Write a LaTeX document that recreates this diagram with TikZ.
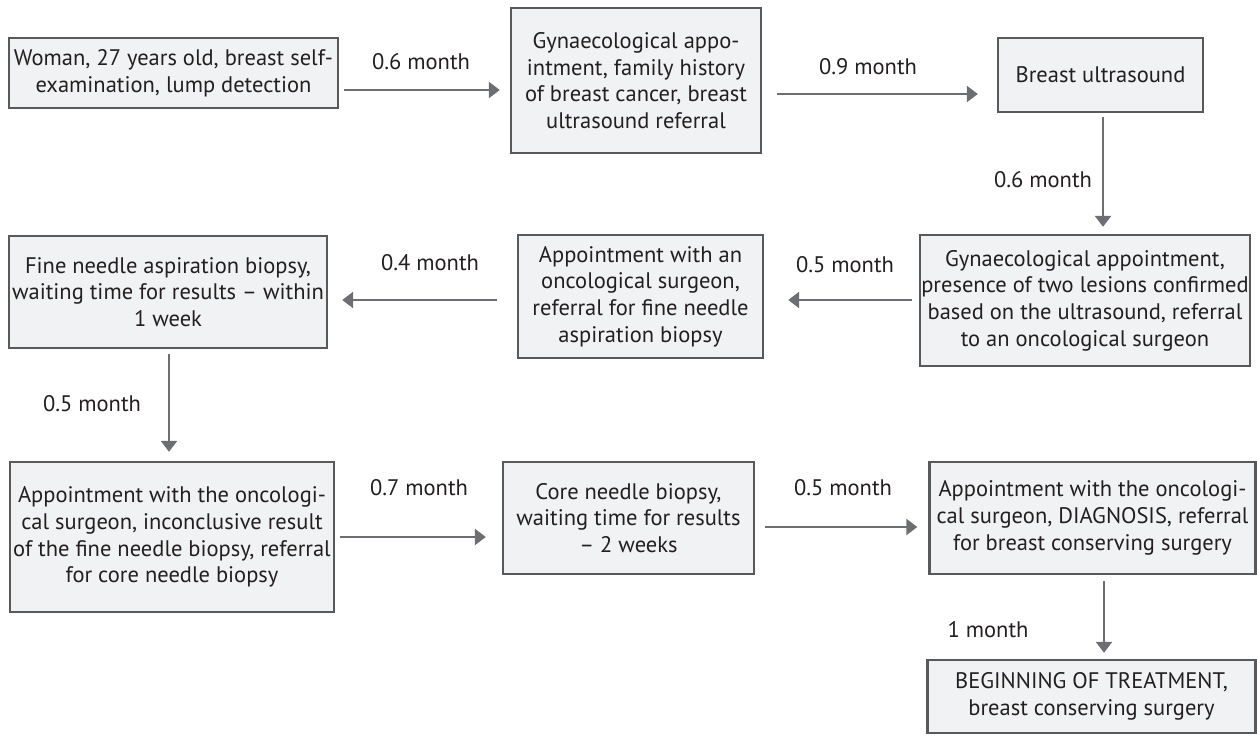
\documentclass[tikz,border=0pt]{standalone}
\usepackage{fontspec}
\setmainfont{PT Sans}
\usetikzlibrary{arrows.meta}
\definecolor{boxline}{HTML}{58595B}
\definecolor{boxfill}{HTML}{F1F2F3}
\definecolor{arrcol}{HTML}{6D6E71}
\definecolor{txt}{HTML}{231F20}
\tikzset{
  stepbox/.style={draw=boxline, line width=2.4pt, fill=boxfill, align=center, inner sep=0pt,
    text=txt, font=\fontsize{22.5}{26.7}\selectfont},
  arr/.style={draw=arrcol, line width=2.5pt, -{Triangle[length=11pt,width=16pt]}},
  lbl/.style={text=txt, font=\fontsize{22.5}{26.7}\selectfont, inner sep=0pt}
}
\begin{document}
\begin{tikzpicture}[x=1pt,y=-1pt]
\useasboundingbox (0,0) rectangle (1257,736);
\node[stepbox, minimum width=329pt, minimum height=70pt] (A) at (173.5,73) {Woman, 27 years old, breast self-\\examination, lump detection};
\node[stepbox, minimum width=250pt, minimum height=145pt] (B) at (636,80.5) {Gynaecological appo-\\intment, family history\\of breast cancer, breast\\ultrasound referral};
\node[stepbox, minimum width=205pt, minimum height=74pt] (C) at (1100.5,75) {Breast ultrasound};
\node[stepbox, minimum width=330pt, minimum height=131pt] (D) at (1085,300.5) {Gynaecological appointment,\\presence of two lesions confirmed\\based on the ultrasound, referral\\to an oncological surgeon};
\node[stepbox, minimum width=245pt, minimum height=123pt] (E) at (640.5,296.5) {Appointment with an\\oncological surgeon,\\referral for fine needle\\aspiration biopsy};
\node[stepbox, minimum width=318pt, minimum height=112pt] (F) at (168,292) {Fine needle aspiration biopsy,\\waiting time for results – within\\1 week};
\node[stepbox, minimum width=324pt, minimum height=150pt] (G) at (172,537) {Appointment with the oncologi-\\cal surgeon, inconclusive result\\of the fine needle biopsy, referral\\for core needle biopsy};
\node[stepbox, minimum width=251pt, minimum height=112pt] (H) at (628.5,518) {Core needle biopsy,\\waiting time for results\\– 2 weeks};
\node[stepbox, minimum width=326pt, minimum height=112pt] (I) at (1092.5,518) {Appointment with the oncologi-\\cal surgeon, DIAGNOSIS, referral\\for breast conserving surgery};
\node[stepbox, minimum width=328pt, minimum height=73pt] (J) at (1091.5,696.5) {BEGINNING OF TREATMENT,\\breast conserving surgery};

\draw[arr, shorten <=5pt, shorten >=10pt] ([yshift=-17pt]A.east) -- ([yshift=-17pt]A.east -| B.west);
\draw[arr, shorten <=15pt, shorten >=19pt] ([yshift=-13.5pt]B.east) -- ([yshift=-13.5pt]B.east -| C.west);
\draw[arr, shorten <=4pt, shorten >=7pt] ([xshift=2.5pt]C.south) -- ([xshift=2.5pt]C.south |- D.north);
\draw[arr, shorten <=7pt, shorten >=24pt] ([yshift=0.5pt]D.west) -- ([yshift=0.5pt]D.west -| E.east);
\draw[arr, shorten <=20pt, shorten >=14pt] ([yshift=-3.5pt]E.west) -- ([yshift=-3.5pt]E.west -| F.east);
\draw[arr, shorten <=5pt, shorten >=9pt] ([xshift=1pt]F.south) -- ([xshift=1pt]F.south |- G.north);
\draw[arr, shorten <=5pt, shorten >=16pt] (G.east) -- (G.east -| H.west);
\draw[arr, shorten <=10pt, shorten >=11pt] ([yshift=-9pt]H.east) -- ([yshift=-9pt]H.east -| I.west);
\draw[arr, shorten <=6pt, shorten >=6pt] ([xshift=11.5pt]I.south) -- ([xshift=11.5pt]I.south |- J.north);

\node[lbl] (l1) at (421,62) {0.6 month};
\node[lbl] (l2) at (868,67) {0.9 month};
\node[lbl] (l3) at (1043,180) {0.6 month};
\node[lbl] (l4) at (845,265) {0.5 month};
\node[lbl] (l5) at (430,263) {0.4 month};
\node[lbl] (l6) at (92,404) {0.5 month};
\node[lbl] (l7) at (419,488) {0.7 month};
\node[lbl] (l8) at (843,488) {0.5 month};
\node[lbl] (l9) at (988,630) {1 month};
\end{tikzpicture}
\end{document}
